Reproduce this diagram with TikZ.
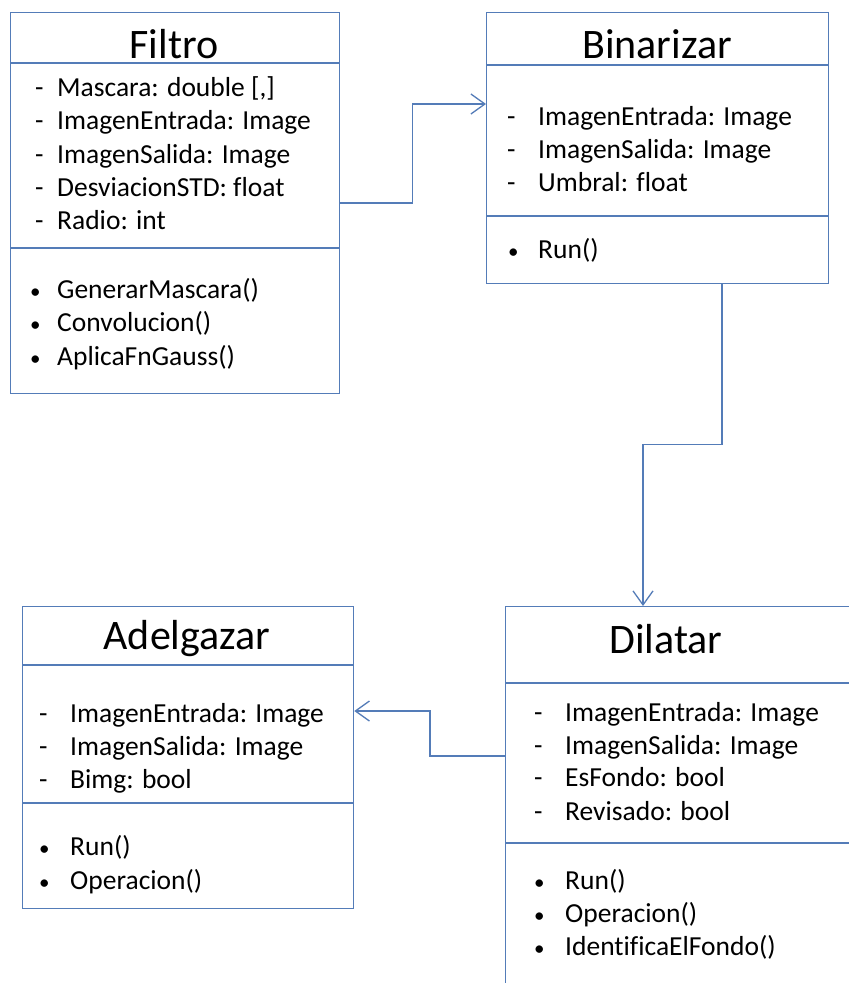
\documentclass[tikz,border=0pt]{standalone}
\usepackage{fontspec}
\setmainfont{Carlito}[Ligatures=NoCommon]
\usepackage{tikz}
\usetikzlibrary{arrows.meta}

\definecolor{umlblue}{RGB}{84,124,184}

\begin{document}
\begin{tikzpicture}[x=1pt,y=-1pt,
  >={Straight Barb[length=14pt,width=20pt]},
  class box/.style={rectangle,draw=umlblue,line width=1.3pt,fill=white,anchor=north west,inner sep=0pt},
  sep line/.style={draw=umlblue,line width=1.3pt},
  conn/.style={->,draw=umlblue,line width=1.3pt},
  title node/.style={inner sep=0pt,font=\fontsize{42}{50}\selectfont},
  attr node/.style={anchor=base west,inner sep=0pt,yshift=-9pt,
    font=\fontsize{27.5}{33}\selectfont},
  dot node/.style={attr node,font=\fontsize{21}{25}\selectfont}]

  \fill[white] (0,0) rectangle (849,983);
  \useasboundingbox (0,0) rectangle (849,983);
  \clip (0,0) rectangle (849,983);

  % class boxes
  \node[class box,minimum width=329pt,minimum height=381pt] (filtro) at (10,12) {};
  \node[class box,minimum width=342pt,minimum height=271pt] (binarizar) at (486,12) {};
  \node[class box,minimum width=331pt,minimum height=302pt] (adelgazar) at (22,606) {};
  \node[class box,minimum width=380pt,minimum height=420pt] (dilatar) at (505,606) {};

  % compartments
  \draw[sep line] (filtro.west |- 0,63) -- (filtro.east |- 0,63);
  \draw[sep line] (filtro.west |- 0,248) -- (filtro.east |- 0,248);
  \draw[sep line] (binarizar.west |- 0,65) -- (binarizar.east |- 0,65);
  \draw[sep line] (binarizar.west |- 0,216) -- (binarizar.east |- 0,216);
  \draw[sep line] (adelgazar.west |- 0,665) -- (adelgazar.east |- 0,665);
  \draw[sep line] (adelgazar.west |- 0,803) -- (adelgazar.east |- 0,803);
  \draw[sep line] (dilatar.west |- 0,683) -- (dilatar.east |- 0,683);
  \draw[sep line] (dilatar.west |- 0,843) -- (dilatar.east |- 0,843);

  % titles
  \node[title node] (filtro title) at (174,44) {Filtro};
  \node[title node] (binarizar title) at (657,44) {Binarizar};
  \node[title node] (adelgazar title) at (187,639) {Adelgazar};
  \node[title node] (dilatar title) at (666,639) {Dilatar};

  % Filtro
  \foreach \y/\t in {87/{Mascara: double [,]},120/{ImagenEntrada: Image},
    154/{ImagenSalida: Image},187/{DesviacionSTD: float},220/{Radio: int}}{
    \node[attr node] at (35,\y) {-};
    \node[attr node] at (57,\y) {\t};
  }
  \foreach \y/\t in {289/{GenerarMascara()},322/{Convolucion()},356/{AplicaFnGauss()}}{
    \node[dot node] at (30,\y) {•};
    \node[attr node] at (57,\y) {\t};
  }

  % Binarizar
  \foreach \y/\t in {116/{ImagenEntrada: Image},149/{ImagenSalida: Image},182/{Umbral: float}}{
    \node[attr node] at (507,\y) {-};
    \node[attr node] at (538,\y) {\t};
  }
  \node[dot node] at (508,249) {•};
  \node[attr node] at (538,249) {Run()};

  % Adelgazar
  \foreach \y/\t in {713/{ImagenEntrada: Image},746/{ImagenSalida: Image},779/{Bimg: bool}}{
    \node[attr node] at (39,\y) {-};
    \node[attr node] at (70,\y) {\t};
  }
  \foreach \y/\t in {846/{Run()},880/{Operacion()}}{
    \node[dot node] at (39,\y) {•};
    \node[attr node] at (70,\y) {\t};
  }

  % Dilatar
  \foreach \y/\t in {712/{ImagenEntrada: Image},745/{ImagenSalida: Image},
    777/{EsFondo: bool},811/{Revisado: bool}}{
    \node[attr node] at (534,\y) {-};
    \node[attr node] at (565,\y) {\t};
  }
  \foreach \y/\t in {880/{Run()},913/{Operacion()},946/{IdentificaElFondo()}}{
    \node[dot node] at (534,\y) {•};
    \node[attr node] at (565,\y) {\t};
  }

  % connectors
  \draw[conn] (filtro.east |- 0,203) -- ++(72,0) |- (binarizar.west |- 0,104);
  \draw[conn] (binarizar.south -| 722,0) -- ++(0,160) -| (dilatar.north -| 643,0);
  \draw[conn] (dilatar.west |- 0,756) -- ++(-75,0) |- (adelgazar.east |- 0,711);

\end{tikzpicture}
\end{document}
